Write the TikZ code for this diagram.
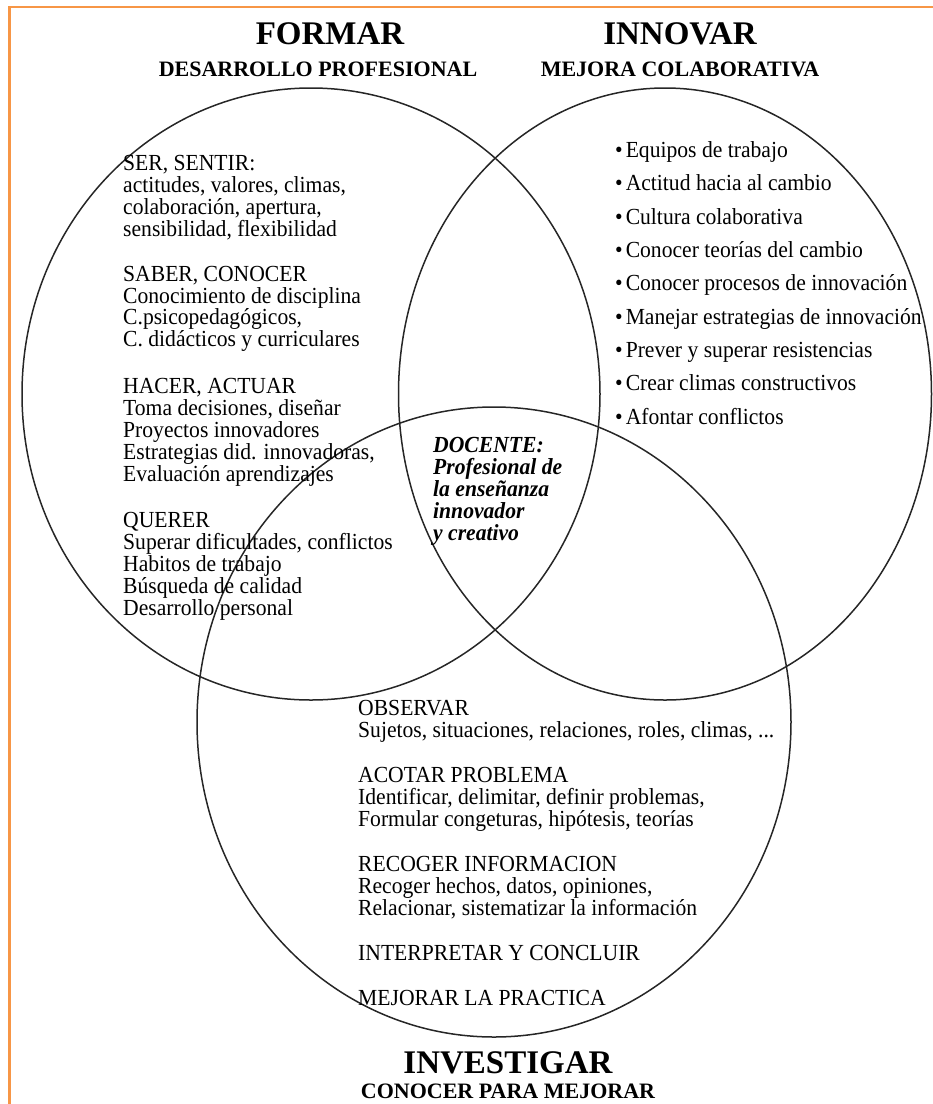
\documentclass[tikz,border=0pt]{standalone}
\usepackage{fontspec}
\setmainfont{Liberation Serif}[BoldFont={Liberation Serif Bold},ItalicFont={Liberation Serif Italic},BoldItalicFont={Liberation Serif Bold Italic}]
\newfontfamily\bodyfont{Liberation Serif}[FakeStretch=0.94,BoldFont={Liberation Serif Bold},ItalicFont={Liberation Serif Italic},BoldItalicFont={Liberation Serif Bold Italic}]
\usetikzlibrary{shapes.geometric}
\definecolor{frameorange}{RGB}{247,150,70}
\begin{document}
\begin{tikzpicture}[x=1pt,y=-1pt,
  circ/.style={draw=black!85, line width=1.5pt, ellipse, inner sep=0pt},
  framel/.style={draw=frameorange, line width=2.6pt},
  txt/.style={anchor=base west, inner sep=0pt, font=\bodyfont\fontsize{23}{22}\selectfont},
  doc/.style={anchor=base west, inner sep=0pt, font=\bodyfont\bfseries\itshape\fontsize{23}{22}\selectfont},
  title/.style={anchor=base, inner sep=0pt, font=\bfseries\fontsize{33}{36}\selectfont},
  subtitle/.style={anchor=base, inner sep=0pt, font=\bfseries\fontsize{22}{24}\selectfont}]
\useasboundingbox (0,0) rectangle (933,1104);
% frame (top and left edges only)
\coordinate (tl) at (9.7,7);
\coordinate (tr) at (933,7);
\coordinate (bl) at (9.7,1104);
\draw[framel] (tr) -- (tl) -- (bl);
% circles
\node[circ, minimum width=578pt, minimum height=612pt] (cformar) at (311,394) {};
\node[circ, minimum width=533pt, minimum height=612pt] (cinnovar) at (665,394) {};
\node[circ, minimum width=594pt, minimum height=630pt] (cinvest) at (494,722) {};
% titles
\node[title] (formar) at (330,44) {FORMAR};
\node[subtitle] (desarrollo) at (318,76) {DESARROLLO PROFESIONAL};
\node[title] (innovar) at (680,44) {INNOVAR};
\node[subtitle] (mejora) at (680,76) {MEJORA COLABORATIVA};
\node[title] (investigar) at (508,1073) {INVESTIGAR};
\node[subtitle] (conocer) at (508,1098) {CONOCER PARA MEJORAR};
% left block
\node[txt] (a1) at (123,170) {SER, SENTIR:};
\node[txt] (a2) at (123,192) {actitudes, valores, climas,};
\node[txt] (a3) at (123,214) {colaboración, apertura,};
\node[txt] (a4) at (123,236) {sensibilidad, flexibilidad};
\node[txt] (b1) at (123,281) {SABER, CONOCER};
\node[txt] (b2) at (123,303) {Conocimiento de disciplina};
\node[txt] (b3) at (123,324) {C.psicopedagógicos,};
\node[txt] (b4) at (123,346) {C. didácticos y curriculares};
\node[txt] (c1) at (123,393) {HACER, ACTUAR};
\node[txt] (c2) at (123,415) {Toma decisiones, diseñar};
\node[txt] (c3) at (123,437) {Proyectos innovadores};
\node[txt] (c4) at (123,459) {Estrategias did. innovadoras,};
\node[txt] (c5) at (123,481) {Evaluación aprendizajes};
\node[txt] (d1) at (123,527) {QUERER};
\node[txt] (d2) at (123,549) {Superar dificultades, conflictos};
\node[txt] (d3) at (123,571) {Habitos de trabajo};
\node[txt] (d4) at (123,593) {Búsqueda de calidad};
\node[txt] (d5) at (123,615) {Desarrollo personal};
% right block
\node[txt] (e1) at (615,157) {\textbullet\hspace{3pt}Equipos de trabajo};
\node[txt] (e2) at (615,190) {\textbullet\hspace{3pt}Actitud hacia al cambio};
\node[txt] (e3) at (615,224) {\textbullet\hspace{3pt}Cultura colaborativa};
\node[txt] (e4) at (615,257) {\textbullet\hspace{3pt}Conocer teorías del cambio};
\node[txt] (e5) at (615,290) {\textbullet\hspace{3pt}Conocer procesos de innovación};
\node[txt] (e6) at (615,324) {\textbullet\hspace{3pt}Manejar estrategias de innovación};
\node[txt] (e7) at (615,357) {\textbullet\hspace{3pt}Prever y superar resistencias};
\node[txt] (e8) at (615,390) {\textbullet\hspace{3pt}Crear climas constructivos};
\node[txt] (e9) at (615,424) {\textbullet\hspace{3pt}Afontar conflictos};
% centre
\node[doc] (f1) at (433,452) {DOCENTE:};
\node[doc] (f2) at (433,474) {Profesional de};
\node[doc] (f3) at (433,496) {la enseñanza};
\node[doc] (f4) at (433,518) {innovador};
\node[doc] (f5) at (433,540) {y creativo};
% bottom block
\node[txt] (g1) at (358,715) {OBSERVAR};
\node[txt] (g2) at (358,737) {Sujetos, situaciones, relaciones, roles, climas, ...};
\node[txt] (h1) at (358,782) {ACOTAR PROBLEMA};
\node[txt] (h2) at (358,804) {Identificar, delimitar, definir problemas,};
\node[txt] (h3) at (358,826) {Formular congeturas, hipótesis, teorías};
\node[txt] (i1) at (358,871) {RECOGER INFORMACION};
\node[txt] (i2) at (358,893) {Recoger hechos, datos, opiniones,};
\node[txt] (i3) at (358,915) {Relacionar, sistematizar la información};
\node[txt] (j1) at (358,960) {INTERPRETAR Y CONCLUIR};
\node[txt] (k1) at (358,1005) {MEJORAR LA PRACTICA};
\end{tikzpicture}
\end{document}
